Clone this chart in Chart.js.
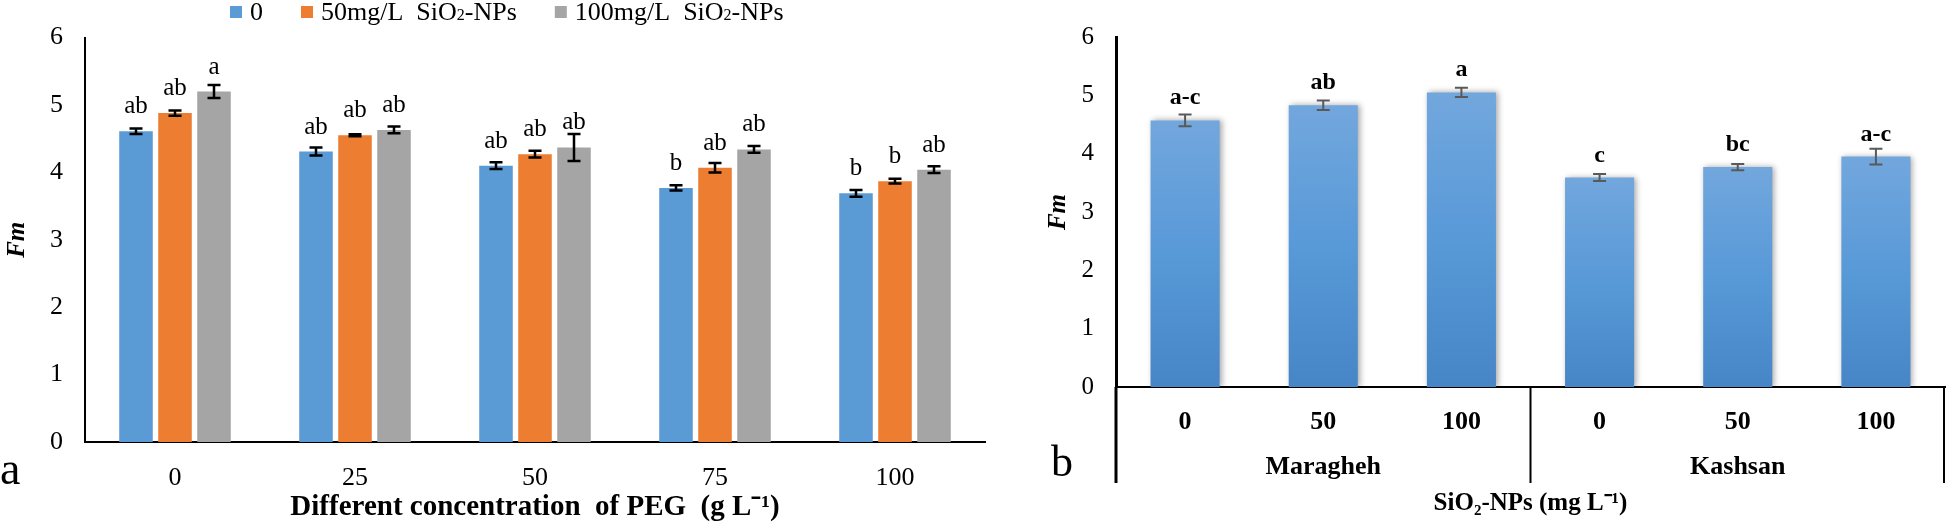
<!DOCTYPE html>
<html lang="en">
<head>
<meta charset="UTF-8">
<title>Fm charts</title>
<script src="https://cdn.jsdelivr.net/npm/chart.js"></script>
<style>
    html, body { margin: 0; padding: 0; background: #fff; }
    body { width: 1947px; height: 525px; position: relative; overflow: hidden; }
    canvas { position: absolute; top: 0; }
    #chartA { left: 0; }
    #chartB { left: 1000px; }
</style>
</head>
<body>
<canvas id="chartA" width="1000" height="525"></canvas>
<canvas id="chartB" width="947" height="525"></canvas>
<script>
    // ---- panel a : PEG x SiO2 ----
    const pegLevels = ['0', '25', '50', '75', '100'];
    const seriesNames = ['0', '50mg/L  SiO₂-NPs', '100mg/L  SiO₂-NPs'];
    const fm0 = [4.61, 4.31, 4.10, 3.77, 3.69];
    const fm50 = [4.88, 4.55, 4.27, 4.07, 3.87];
    const fm100 = [5.20, 4.63, 4.37, 4.34, 4.04];
    const err0 = [0.04, 0.06, 0.05, 0.04, 0.05];
    const err50 = [0.04, 0.015, 0.05, 0.07, 0.035];
    const err100 = [0.095, 0.05, 0.2, 0.05, 0.05];
    const let0 = ['ab', 'ab', 'ab', 'b', 'b'];
    const let50 = ['ab', 'ab', 'ab', 'ab', 'b'];
    const let100 = ['a', 'ab', 'ab', 'ab', 'ab'];

    // ---- panel b : cultivars x SiO2 ----
    const siLevels = ['0', '50', '100', '0', '50', '100'];
    const sites = ['Maragheh', 'Kashsan'];
    const fmSite = [4.57, 4.83, 5.05, 3.59, 3.77, 3.95];
    const errSite = [0.10, 0.08, 0.08, 0.06, 0.055, 0.135];
    const letSite = ['a-c', 'ab', 'a', 'c', 'bc', 'a-c'];

    const serif = "'Liberation Serif', 'Times New Roman', serif";
    const colors = ['#5b9bd5', '#ed7d31', '#a5a5a5'];

    // draws "SiO₂" with a small lowered 2
    function richText(ctx, text, x, y, size) {
        const parts = text.split('₂');
        parts.forEach(function (p, i) {
            ctx.font = size + 'px ' + serif;
            ctx.fillText(p, x, y);
            x += ctx.measureText(p).width;
            if (i < parts.length - 1) {
                ctx.font = Math.round(size * 0.62) + 'px ' + serif;
                ctx.fillText('2', x, y + size * 0.1);
                x += ctx.measureText('2').width;
            }
        });
        return x;
    }

    const errorBars = {
        id: 'errorBars',
        afterDatasetsDraw(chart, args, opts) {
            const ctx = chart.ctx;
            const y = chart.scales.y;
            chart.data.datasets.forEach(function (ds, i) {
                chart.getDatasetMeta(i).data.forEach(function (bar, j) {
                    const v = ds.data[j], e = ds.errors[j];
                    const t = y.getPixelForValue(v + e), b = y.getPixelForValue(v - e);
                    ctx.save();
                    ctx.strokeStyle = opts.color;
                    ctx.lineWidth = opts.width;
                    ctx.beginPath();
                    ctx.moveTo(bar.x, t); ctx.lineTo(bar.x, b);
                    ctx.moveTo(bar.x - opts.cap, t); ctx.lineTo(bar.x + opts.cap, t);
                    ctx.moveTo(bar.x - opts.cap, b); ctx.lineTo(bar.x + opts.cap, b);
                    ctx.stroke();
                    ctx.fillStyle = '#000';
                    ctx.textAlign = 'center';
                    ctx.textBaseline = 'alphabetic';
                    ctx.font = opts.font;
                    ctx.fillText(ds.letters[j], bar.x, bar.y - opts.gap);
                    ctx.restore();
                });
            });
        }
    };

    const panelA = {
        id: 'panelA',
        afterDraw(chart) {
            const ctx = chart.ctx;
            ctx.save();
            ctx.fillStyle = '#000';
            ctx.textBaseline = 'middle';
            ctx.textAlign = 'left';
            // legend
            let x = 230;
            chart.data.datasets.forEach(function (ds) {
                ctx.fillStyle = ds.backgroundColor;
                ctx.fillRect(x, 6, 12, 12);
                ctx.fillStyle = '#000';
                x = richText(ctx, ds.label, x + 20, 13, 26) + 38;
            });
            // panel letter
            ctx.font = '46px ' + serif;
            ctx.textBaseline = 'alphabetic';
            ctx.fillText('a', 0, 484);
            ctx.restore();
        }
    };

    new Chart(document.getElementById('chartA'), {
        type: 'bar',
        data: {
            labels: pegLevels,
            datasets: [
                { label: seriesNames[0], data: fm0, errors: err0, letters: let0, backgroundColor: colors[0] },
                { label: seriesNames[1], data: fm50, errors: err50, letters: let50, backgroundColor: colors[1] },
                { label: seriesNames[2], data: fm100, errors: err100, letters: let100, backgroundColor: colors[2] }
            ]
        },
        options: {
            responsive: false,
            animation: false,
            devicePixelRatio: 1,
            categoryPercentage: 0.65,
            barPercentage: 0.86,
            layout: { padding: { top: 28, right: 15, left: 0, bottom: 0 } },
            plugins: {
                legend: { display: false },
                tooltip: { enabled: false },
                errorBars: { color: '#000', width: 2.5, cap: 6.5, gap: 18, font: '25px ' + serif }
            },
            scales: {
                x: {
                    grid: { display: false, drawTicks: false },
                    border: { color: '#000', width: 2 },
                    ticks: { color: '#000', font: { family: serif, size: 26 }, padding: 21 },
                    title: {
                        display: true, text: 'Different concentration  of PEG  (g L⁻¹)', color: '#000',
                        font: { family: serif, size: 29, weight: 'bold' }, padding: 0
                    },
                    afterFit: function (s) { s.height = 83; }
                },
                y: {
                    min: 0, max: 6,
                    grid: { display: false, drawTicks: false },
                    border: { color: '#000', width: 2 },
                    ticks: { stepSize: 1, color: '#000', font: { family: serif, size: 26 }, padding: 22 },
                    title: {
                        display: true, text: 'Fm', color: '#000',
                        font: { family: serif, size: 25, weight: 'bold', style: 'italic' }, padding: { top: 3 }
                    },
                    afterFit: function (s) { s.width = 85; }
                }
            }
        },
        plugins: [errorBars, panelA]
    });

    // ---- panel b ----
    const barShadow = {
        id: 'barShadow',
        beforeDatasetDraw(chart) {
            const ctx = chart.ctx;
            ctx.save();
            ctx.shadowColor = 'rgba(0,0,0,0.35)';
            ctx.shadowBlur = 6;
            ctx.shadowOffsetX = 2;
            ctx.shadowOffsetY = 0;
        },
        afterDatasetDraw(chart) { chart.ctx.restore(); }
    };

    const panelB = {
        id: 'panelB',
        afterDraw(chart) {
            const ctx = chart.ctx, area = chart.chartArea, x = chart.scales.x;
            const mid = (x.getPixelForValue(2) + x.getPixelForValue(3)) / 2;
            ctx.save();
            ctx.strokeStyle = '#000';
            ctx.lineWidth = 3;
            ctx.beginPath();
            ctx.moveTo(area.left, area.bottom); ctx.lineTo(area.left, 483);
            ctx.stroke();
            ctx.lineWidth = 2;
            ctx.beginPath();
            ctx.moveTo(mid, area.bottom); ctx.lineTo(mid, 483);
            ctx.moveTo(area.right - 1, area.bottom); ctx.lineTo(area.right - 1, 483);
            ctx.stroke();
            ctx.fillStyle = '#000';
            ctx.textAlign = 'center';
            ctx.textBaseline = 'middle';
            ctx.font = 'bold 26px ' + serif;
            ctx.fillText(sites[0], (area.left + mid) / 2, 467);
            ctx.fillText(sites[1], (mid + area.right) / 2, 467);
            ctx.font = '44px ' + serif;
            ctx.textBaseline = 'alphabetic';
            ctx.fillText('b', 62, 476);
            ctx.restore();
        }
    };

    function barGradient(c) {
        const chart = c.chart;
        if (!chart.chartArea || !chart.scales.y) return '#5b9bd5';
        const y = chart.scales.y;
        const top = y.getPixelForValue(c.raw), bottom = y.getPixelForValue(0);
        const g = chart.ctx.createLinearGradient(0, top, 0, bottom);
        g.addColorStop(0, '#72a7dd');
        g.addColorStop(0.5, '#5899d8');
        g.addColorStop(1, '#4686c6');
        return g;
    }

    new Chart(document.getElementById('chartB'), {
        type: 'bar',
        data: {
            labels: siLevels,
            datasets: [
                { label: 'Fm', data: fmSite, errors: errSite, letters: letSite, backgroundColor: barGradient }
            ]
        },
        options: {
            responsive: false,
            animation: false,
            devicePixelRatio: 1,
            categoryPercentage: 1,
            barPercentage: 0.5,
            layout: { padding: { top: 18, right: 2, left: 0, bottom: 0 } },
            plugins: {
                legend: { display: false },
                tooltip: { enabled: false },
                errorBars: { color: '#595959', width: 2, cap: 6.5, gap: 16, font: 'bold 24px ' + serif }
            },
            scales: {
                x: {
                    grid: { display: false, drawTicks: false },
                    border: { color: '#000', width: 2 },
                    ticks: { color: '#000', font: { family: serif, size: 26, weight: 'bold' }, padding: 20 },
                    title: {
                        display: true, text: 'SiO₂-NPs (mg L⁻¹)', color: '#000',
                        font: { family: serif, size: 25, weight: 'bold' }, padding: { bottom: 6 }
                    },
                    afterFit: function (s) { s.height = 138; }
                },
                y: {
                    min: 0, max: 6,
                    grid: { display: false, drawTicks: false },
                    border: { color: '#000', width: 3 },
                    ticks: { stepSize: 1, color: '#000', font: { family: serif, size: 25 }, padding: 22 },
                    title: {
                        display: true, text: 'Fm', color: '#000',
                        font: { family: serif, size: 25, weight: 'bold', style: 'italic' }, padding: { top: 44 }
                    },
                    afterFit: function (s) { s.width = 116; }
                }
            }
        },
        plugins: [barShadow, errorBars, panelB]
    });
</script>
</body>
</html>
